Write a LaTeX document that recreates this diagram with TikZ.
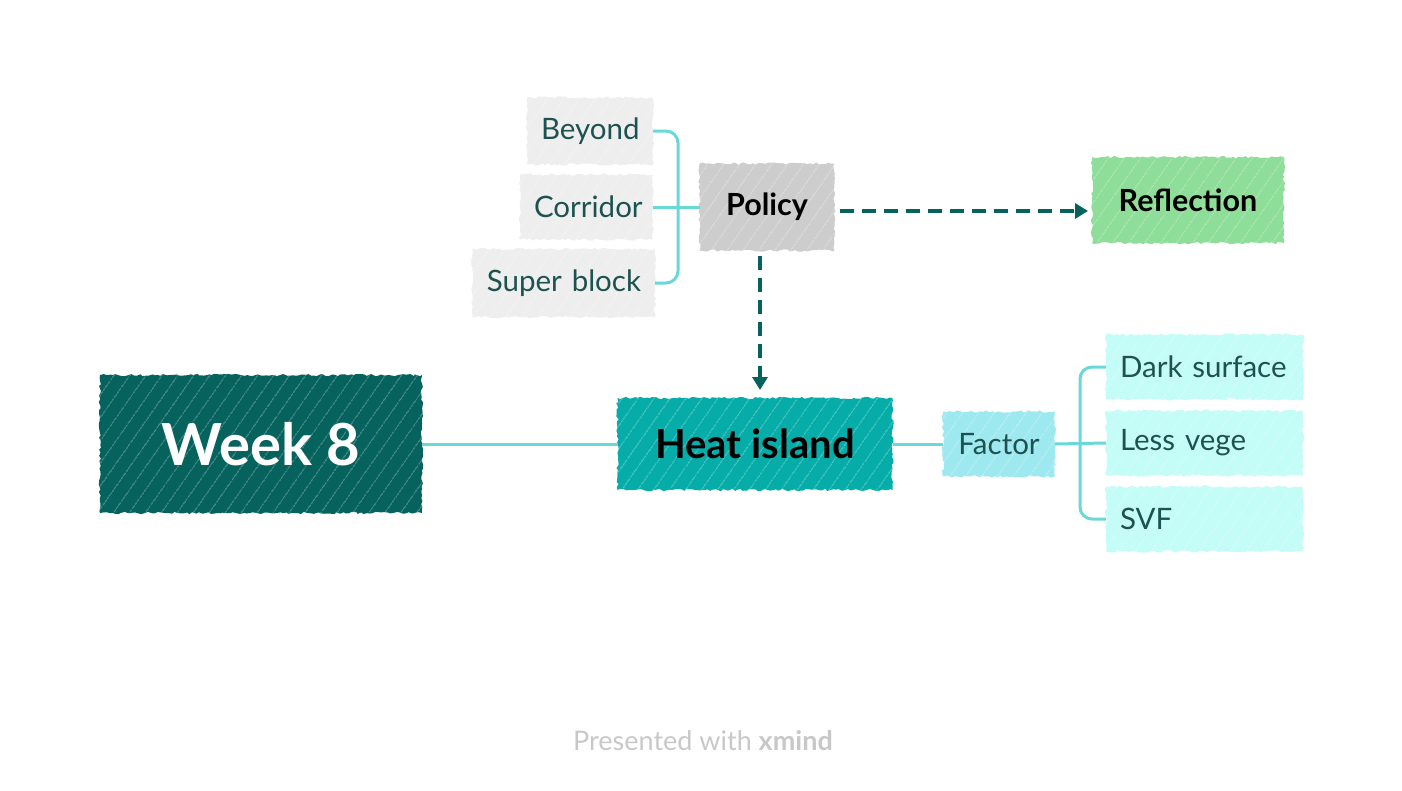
\documentclass[tikz,border=0pt]{standalone}
\usepackage{fontspec}
\setmainfont{Lato}
\usetikzlibrary{arrows.meta,decorations.pathmorphing,patterns.meta}
\definecolor{wkfill}{HTML}{05625D}
\definecolor{hifill}{HTML}{06ADA8}
\definecolor{facfill}{HTML}{9DE9EF}
\definecolor{subfill}{HTML}{C4FCF7}
\definecolor{polfill}{HTML}{CDCDCD}
\definecolor{greyfill}{HTML}{EEEEEE}
\definecolor{reffill}{HTML}{8EDD98}
\definecolor{connline}{HTML}{6AD8D6}
\definecolor{dashline}{HTML}{05625D}
\definecolor{subtext}{HTML}{1D5250}
\definecolor{footgray}{HTML}{C8C8C8}
\begin{document}
\begin{tikzpicture}[x=1pt,y=-1pt,
  sketch/.style={inner sep=0pt, outer sep=0pt, draw=none,
    decorate, decoration={random steps, segment length=3pt, amplitude=1.2pt},
    postaction={pattern={Lines[angle=55,distance=13pt,line width=0.6pt]}, pattern color=white, opacity=0.45}},
  boxw/.style 2 args={minimum width=#1pt, minimum height=#2pt},
  topicbox/.style={sketch, font=\bfseries\fontsize{30.5}{34}\selectfont, text=black},
  subbox/.style={sketch, font=\fontsize{29.5}{33}\selectfont, text=subtext},
  conn/.style={draw=connline, line width=3pt},
  dasharrow/.style={draw=dashline, line width=3.5pt, dash pattern=on 14pt off 8pt,
    -{Triangle[length=13pt,width=15pt]}}
]
\useasboundingbox (0,0) rectangle (1402,790);

% main nodes
\node[sketch, fill=wkfill, boxw={322}{138}, text=white,
  font=\bfseries\fontsize{58}{62}\selectfont] (week) at (261,444) {Week 8};
\node[sketch, fill=hifill, boxw={275}{92}, text=black,
  font=\bfseries\fontsize{40}{44}\selectfont] (heat) at (755,444) {Heat island};
\node[subbox, fill=facfill, boxw={112}{65}] (factor) at (999,444) {Factor};

% factor children (left aligned)
\node[subbox, fill=subfill, boxw={197}{65}, anchor=west, text width=169pt, inner xsep=14pt, align=left] (dark) at (1106,367) {Dark surface};
\node[subbox, fill=subfill, boxw={197}{65}, anchor=west, text width=169pt, inner xsep=14pt, align=left] (less) at (1106,443) {Less vege};
\node[subbox, fill=subfill, boxw={197}{65}, anchor=west, text width=169pt, inner xsep=14pt, align=left] (svf) at (1106,519) {SVF};

% policy
\node[topicbox, fill=polfill, boxw={135}{87}] (policy) at (767,207) {Policy};
\node[subbox, fill=greyfill, boxw={126}{67}, anchor=east, text width=98pt, inner xsep=14pt, align=right] (beyond) at (653,131) {Beyond};
\node[subbox, fill=greyfill, boxw={133}{65}, anchor=east, text width=105pt, inner xsep=14pt, align=right] (corridor) at (653,207) {Corridor};
\node[subbox, fill=greyfill, boxw={183}{68}, anchor=east, text width=155pt, inner xsep=14pt, align=right] (super) at (655,283) {Super block};

% reflection
\node[topicbox, fill=reffill, boxw={192}{86}] (refl) at (1188,200) {Reflection};

% connectors
\draw[conn] (week.east) -- (heat.west);
\draw[conn] (heat.east) -- (factor.west);
\coordinate (fb) at (1080,444);
\draw[conn] (factor.east) -- (less.west);
\draw[conn, rounded corners=12pt] (dark.west) -| (fb) |- (svf.west);

\coordinate (pb) at (678,207);
\draw[conn] (corridor.east) -- (policy.west);
\draw[conn, rounded corners=12pt] (beyond.east) -| (pb) |- (super.east);

\draw[dasharrow] ([xshift=5pt,yshift=-4pt]policy.east) -- ([xshift=-4pt,yshift=-11pt]refl.west);
\draw[dasharrow] ([xshift=-7pt,yshift=-5pt]policy.south) -- ([xshift=5pt,yshift=8pt]heat.north);

% footer
\node[font=\fontsize{27}{30}\selectfont, text=footgray] (foot) at (703,741)
  {Presented with \textbf{xmind}};
\end{tikzpicture}
\end{document}
